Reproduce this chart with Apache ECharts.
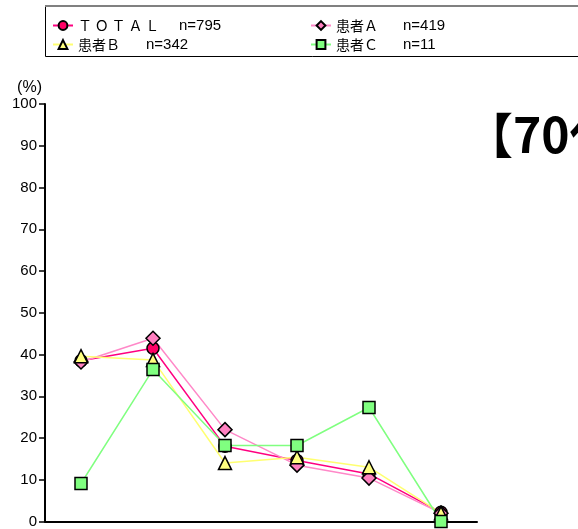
<!DOCTYPE html>
<html>
<head>
<meta charset="utf-8">
<script src="https://cdn.jsdelivr.net/npm/echarts@6/dist/echarts.min.js"></script>
<style>
  html, body { margin: 0; padding: 0; background: #fff; }
  #chart { width: 578px; height: 529px; }
</style>
</head>
<body>
<div id="chart"></div>
<script>
// Categories along the x axis (their labels sit below the visible area)
const categories = ['区分1', '区分2', '区分3', '区分4', '区分5', '区分6'];

// Series names and sample sizes shown in the legend
const seriesNames = ['ＴＯＴＡＬ', '患者Ａ', '患者Ｂ', '患者Ｃ'];
const sampleSizes = [795, 419, 342, 11];

// Percentages per category
const totalValues    = [38.5, 41.5, 18.0, 14.6, 11.4, 2.2];
const patientAValues = [38.2, 43.9, 22.0, 13.5, 10.4, 2.0];
const patientBValues = [39.6, 38.7, 14.0, 15.4, 13.0, 2.0];
const patientCValues = [9.1, 36.4, 18.2, 18.2, 27.3, 0];

// Y axis range and step
const yMin = 0;
const yMax = 100;
const yStep = 10;

const chart = echarts.init(document.getElementById('chart'), null, { renderer: 'canvas' });

const numFont = 'Liberation Sans';
const jpFont = '"Noto Sans CJK JP", sans-serif';

function legendFor(index, left, top, nameWidth) {
  const name = seriesNames[index];
  const shown = index === 0 ? name.split('').join('\u2009') : name;
  return {
    data: [name],
    left: left,
    top: top,
    itemWidth: 20,
    itemHeight: 11,
    itemGap: 0,
    padding: 0,
    selectedMode: false,
    formatter: () => `{a|${shown}}{b|n=${sampleSizes[index]}}`,
    textStyle: {
      rich: {
        a: { fontFamily: jpFont, fontSize: 14, color: '#000', width: nameWidth },
        b: { fontFamily: numFont, fontSize: 15, color: '#000' }
      }
    }
  };
}

function lineSeries(name, values, lineColor, symbol, symbolSize, fill) {
  return {
    name: name,
    type: 'line',
    data: values,
    symbol: symbol,
    symbolSize: symbolSize,
    showAllSymbol: true,
    animation: false,
    lineStyle: { color: lineColor, width: 1.5 },
    itemStyle: { color: fill, borderColor: '#000', borderWidth: 1.5 },
    emphasis: { disabled: true }
  };
}

const option = {
  backgroundColor: '#fff',
  animation: false,
  grid: { left: 45, right: 101, top: 104, bottom: 6, containLabel: false },
  legend: [
    legendFor(0, 52, 18, 101),
    legendFor(1, 310, 18, 67),
    legendFor(2, 52, 37, 68),
    legendFor(3, 310, 37, 67)
  ],
  xAxis: {
    type: 'category',
    data: categories,
    boundaryGap: true,
    axisLine: { lineStyle: { color: '#000', width: 2 } },
    axisTick: { show: false },
    axisLabel: { show: false },
    splitLine: { show: false }
  },
  yAxis: {
    type: 'value',
    min: yMin,
    max: yMax,
    interval: yStep,
    name: '(%)',
    nameLocation: 'end',
    nameGap: 8,
    nameTextStyle: { fontFamily: numFont, fontSize: 16, color: '#000', align: 'right', padding: [0, 3, 0, 0] },
    axisLine: { show: true, lineStyle: { color: '#000', width: 2 } },
    axisTick: { show: true, inside: false, length: 6, lineStyle: { color: '#000', width: 1.5 } },
    axisLabel: { fontFamily: numFont, fontSize: 15, color: '#000', margin: 8 },
    splitLine: { show: false }
  },
  graphic: [
    {
      type: 'rect',
      shape: { x: 45.5, y: 6.5, width: 560, height: 50 },
      style: { fill: 'none', stroke: '#000', lineWidth: 1 },
      silent: true, z: 0
    },
    {
      type: 'line',
      shape: { x1: 45, y1: 6, x2: 578, y2: 6 },
      style: { stroke: '#808080', lineWidth: 2 },
      silent: true, z: 1
    },
    {
      type: 'text',
      left: 465,
      top: 111,
      style: { text: '【70代】', fontFamily: jpFont, fontWeight: 'bold', fontSize: 48, fill: '#000' },
      silent: true
    }
  ],
  series: [
    lineSeries(seriesNames[0], totalValues, '#FF0080', 'circle', 12, '#FF0066'),
    lineSeries(seriesNames[1], patientAValues, '#FF88C8', 'diamond', 14, '#FF80C0'),
    lineSeries(seriesNames[2], patientBValues, '#FFFF70', 'triangle', 13, '#FFFF80'),
    lineSeries(seriesNames[3], patientCValues, '#80FF80', 'rect', 12, '#80FF80')
  ]
};

chart.setOption(option);
</script>
</body>
</html>
